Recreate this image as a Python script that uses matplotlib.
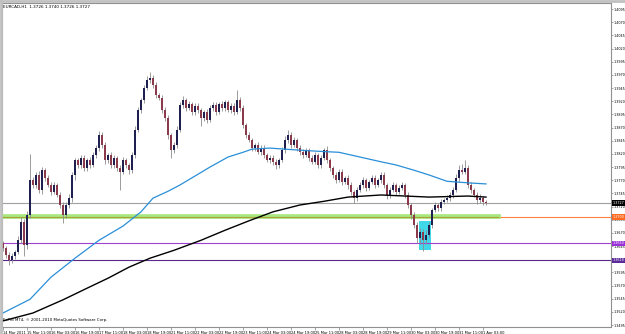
import numpy as np
import matplotlib
matplotlib.use("Agg")
import matplotlib.pyplot as plt
from matplotlib.lines import Line2D
from matplotlib.transforms import blended_transform_factory

plt.rcParams['font.family'] = ['Liberation Sans Narrow', 'DejaVu Sans']

# EURCAD H1 (drawn as 2-hour bars), prices stored as pips above 1.3500
base = 1.35
closes = [141, 128, 119, 126, 134, 156, 191, 147, 204, 270,
          261, 280, 251, 289, 274, 261, 248, 261, 242, 223,
          204, 223, 236, 280, 308, 299, 312, 293, 308, 299,
          318, 331, 356, 337, 308, 318, 299, 312, 293, 286,
          308, 299, 289, 318, 365, 403, 422, 445, 460, 464,
          451, 432, 426, 403, 388, 356, 327, 337, 365, 413,
          422, 407, 415, 399, 411, 403, 388, 399, 384, 407,
          413, 399, 415, 407, 418, 403, 411, 399, 422, 407,
          375, 356, 346, 331, 337, 324, 331, 318, 308, 312,
          305, 299, 308, 327, 346, 356, 337, 346, 331, 324,
          318, 327, 312, 305, 318, 299, 312, 327, 308, 293,
          280, 270, 286, 267, 274, 261, 248, 236, 251, 261,
          270, 255, 267, 274, 261, 270, 280, 261, 242, 251,
          261, 248, 255, 261, 242, 223, 204, 185, 160, 172,
          156, 166, 185, 213, 223, 217, 229, 232, 236, 242,
          251, 274, 289, 286, 293, 261, 251, 242, 232, 236,
          229, 227]
first_open = 150
upper_wick = [5, 4, 6, 5, 4, 8, 10, 6, 8, 50,
              6, 5, 8, 6, 4, 5, 6, 5, 4, 6,
              5, 6, 8, 6, 5, 4, 6, 5, 4, 6,
              5, 6, 8, 5, 6, 4, 5, 6, 4, 5,
              6, 5, 4, 6, 8, 6, 5, 6, 8, 12,
              6, 5, 4, 5, 6, 5, 4, 6, 8, 6,
              8, 5, 6, 4, 5, 6, 5, 4, 6, 5,
              6, 5, 4, 6, 5, 4, 6, 5, 19, 6,
              5, 4, 6, 5, 4, 6, 5, 6, 4, 5,
              6, 5, 4, 6, 8, 10, 5, 6, 4, 5,
              6, 5, 4, 6, 5, 4, 6, 5, 8, 5,
              4, 5, 6, 5, 4, 6, 5, 4, 6, 5,
              6, 5, 4, 6, 5, 4, 6, 5, 4, 6,
              5, 4, 6, 5, 4, 5, 4, 5, 6, 8,
              5, 10, 6, 5, 6, 4, 5, 4, 6, 5,
              6, 8, 10, 12, 15, 6, 5, 4, 6, 8,
              5, 4]
lower_wick = [6, 5, 10, 6, 5, 4, 6, 20, 8, 6,
              5, 6, 5, 8, 6, 4, 6, 5, 4, 6,
              15, 6, 5, 8, 10, 5, 6, 5, 6, 5,
              4, 6, 5, 6, 8, 5, 6, 5, 6, 35,
              5, 6, 8, 6, 5, 4, 6, 5, 4, 5,
              6, 5, 4, 6, 5, 8, 15, 6, 5, 4,
              5, 6, 4, 5, 6, 5, 15, 6, 5, 4,
              6, 5, 4, 6, 5, 4, 6, 5, 4, 5,
              6, 5, 4, 6, 5, 4, 6, 5, 4, 5,
              6, 8, 5, 4, 5, 6, 5, 4, 5, 6,
              5, 4, 6, 5, 4, 6, 5, 4, 6, 5,
              6, 5, 4, 6, 5, 8, 6, 10, 5, 4,
              5, 6, 4, 5, 6, 4, 5, 6, 8, 5,
              4, 6, 5, 4, 5, 6, 8, 6, 10, 12,
              20, 8, 5, 6, 4, 5, 6, 5, 4, 5,
              5, 4, 6, 5, 4, 6, 5, 4, 8, 5,
              6, 4]

# moving averages (bar index, pips)
blue_ma_bars = [0, 9, 16, 24, 32, 40, 46, 50, 55, 59, 64, 69, 75, 80, 83, 89, 99, 105,
                112, 119, 126, 131, 137, 142, 148, 155, 161]
blue_ma_vals = [18, 44, 86, 122, 156, 183, 210, 236, 249, 261, 278, 295, 314, 323, 329, 331, 327, 325,
                323, 314, 305, 299, 289, 280, 268, 265, 263]
black_ma_bars = [0, 10, 20, 28, 35, 42, 49, 57, 66, 74, 82, 90, 99, 107, 115, 126, 142, 155, 161]
black_ma_vals = [3, 18, 43, 65, 84, 105, 122, 137, 156, 175, 193, 210, 223, 230, 238, 242, 238, 240, 238]

# horizontal levels
current_price = 1.3727
orange_level = 1.3700
green_level = 1.3702
green_end_bar = 165
purple_level = 1.3650
dark_purple_level = 1.3618
box_bars = (138.7, 142.7)
box_prices = (1.3638, 1.3693)

tick_labels = ["14 Mar 2011", "15 Mar 11:00", "16 Mar 03:00", "16 Mar 19:00", "17 Mar 11:00",
               "18 Mar 03:00", "18 Mar 19:00", "21 Mar 11:00", "22 Mar 03:00", "22 Mar 19:00",
               "23 Mar 11:00", "24 Mar 03:00", "24 Mar 19:00", "25 Mar 11:00", "28 Mar 03:00",
               "28 Mar 19:00", "29 Mar 11:00", "30 Mar 03:00", "30 Mar 19:00", "31 Mar 11:00",
               "1 Apr 03:00"]

c = base + np.array(closes) / 10000
o = np.concatenate([[base + first_open / 10000], c[:-1]])
hi = np.maximum(o, c) + np.array(upper_wick) / 10000
lo = np.minimum(o, c) - np.array(lower_wick) / 10000
idx = np.arange(len(c))

fig = plt.figure(figsize=(6.25, 3.34), dpi=100)
ax = fig.add_axes([2 / 625, 7 / 334, 609 / 625, 324 / 334])

ax.fill_between(box_bars, box_prices[0], box_prices[1], color="#40d8e8", zorder=1, lw=0)

ax.axhline(current_price, color="#a0a0a0", lw=0.8, zorder=2)
ax.axhline(orange_level, color="#ff7f40", lw=0.8, zorder=2)
ax.plot([-1, green_end_bar], [green_level, green_level], color="#9ae46a", lw=3.4, alpha=0.85, zorder=3)
ax.plot([-1, green_end_bar], [orange_level, orange_level], color="#a8a438", lw=0.8, zorder=3)
ax.axhline(purple_level, color="#a040d0", lw=0.8, zorder=2)
ax.axhline(dark_purple_level, color="#5a2a8a", lw=0.8, zorder=2)

ax.vlines(idx, lo, hi, color="#8c8c8c", lw=0.6, zorder=4)
up = c >= o
body_h = np.maximum(np.abs(c - o), 0.00005)
ax.bar(idx[up], body_h[up], bottom=o[up], width=0.5, color="#202050", zorder=5, lw=0)
ax.bar(idx[~up], body_h[~up], bottom=c[~up], width=0.5, color="#8a3a4a", zorder=5, lw=0)

ax.plot(blue_ma_bars, base + np.array(blue_ma_vals) / 10000, color="#2a8fd8", lw=0.9, zorder=6)
ax.plot(black_ma_bars, base + np.array(black_ma_vals) / 10000, color="black", lw=1.0, zorder=6)

ax.set_xlim(-1 / 3, 608 / 3)
ax.set_ylim(1.34914, 1.41064)

yt = np.arange(1.3495, 1.41, 0.0025)
ax.yaxis.tick_right()
ax.set_yticks(yt)
ax.set_yticklabels([f"{v:.4f}" for v in yt])
ax.set_xticks(np.arange(len(tick_labels)) * 8)
ax.set_xticklabels(tick_labels, ha="left")
ax.tick_params(axis="both", labelsize=2.6, length=2, width=0.5, color="#808080", pad=1)
ax.tick_params(axis="y", labelsize=2.4, length=1.2, pad=0.4)
for s in ax.spines.values():
    s.set_color("#909090")
    s.set_linewidth(0.8)

tr = blended_transform_factory(ax.transAxes, ax.transData)
for val, fc in [(current_price, "black"), (orange_level, "#ff6a20"),
                (purple_level, "#9a30d8"), (dark_purple_level, "#5a2a9a")]:
    ax.text(1.002, val, f"{val:.4f}", transform=tr, fontsize=2.4, color="white",
            va="center", ha="left", zorder=10,
            bbox=dict(boxstyle="square,pad=0.2", fc=fc, ec="none"), clip_on=False)

ax.text(0.002, 0.995, "EURCAD,H1  1.3726 1.3740 1.3726 1.3727", transform=ax.transAxes,
        fontsize=3.0, va="top", ha="left")
ax.text(0.002, 0.015, "FxPro MT4, \u00a9 2001-2010 MetaQuotes Software Corp.", transform=ax.transAxes,
        fontsize=2.8, va="bottom", ha="left")

fig.add_artist(Line2D([0, 1], [0.997, 0.997], color="#c0c0c0", lw=2, transform=fig.transFigure))
fig.add_artist(Line2D([0.0015, 0.0015], [0, 1], color="#c0c0c0", lw=2, transform=fig.transFigure))

fig.savefig("out.png", dpi=100)
